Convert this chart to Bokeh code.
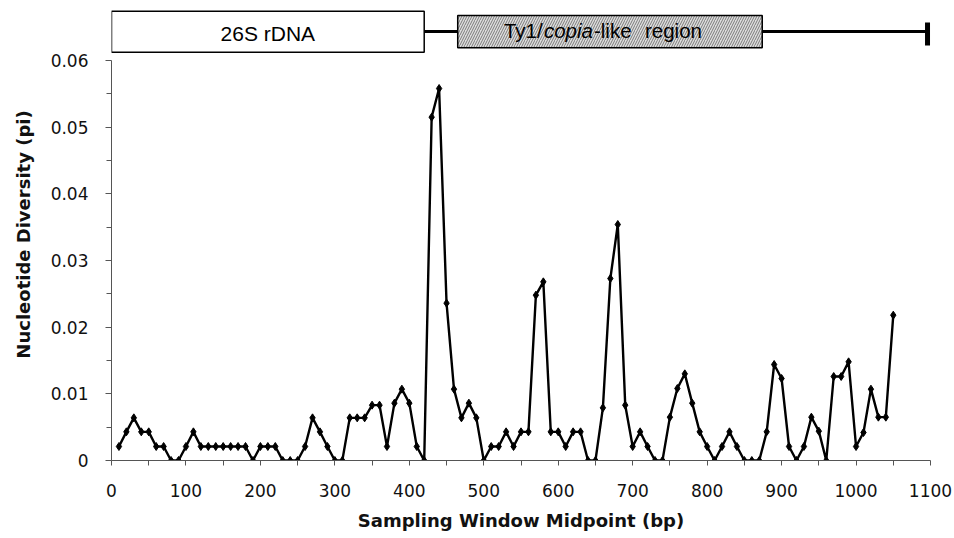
from bokeh.plotting import figure
from bokeh.models import Range1d, FixedTicker
from bokeh.core.properties import value
from bokeh.embed import file_html
from bokeh.resources import INLINE

# ---- data ----
window_mid = [10, 20, 30, 40, 50, 60, 70, 80, 90, 100,
              110, 120, 130, 140, 150, 160, 170, 180, 190, 200,
              210, 220, 230, 240, 250, 260, 270, 280, 290, 300,
              310, 320, 330, 340, 350, 360, 370, 380, 390, 400,
              410, 420, 430, 440, 450, 460, 470, 480, 490, 500,
              510, 520, 530, 540, 550, 560, 570, 580, 590, 600,
              610, 620, 630, 640, 650, 660, 670, 680, 690, 700,
              710, 720, 730, 740, 750, 760, 770, 780, 790, 800,
              810, 820, 830, 840, 850, 860, 870, 880, 890, 900,
              910, 920, 930, 940, 950, 960, 970, 980, 990, 1000,
              1010, 1020, 1030, 1040, 1050]
pi = [0.0021, 0.0043, 0.0064, 0.0043, 0.0043, 0.0021, 0.0021, 0.0, 0.0, 0.0021,
      0.0043, 0.0021, 0.0021, 0.0021, 0.0021, 0.0021, 0.0021, 0.0021, 0.0, 0.0021,
      0.0021, 0.0021, 0.0, 0.0, 0.0, 0.0021, 0.0064, 0.0043, 0.0021, 0.0,
      0.0, 0.0064, 0.0064, 0.0064, 0.0083, 0.0083, 0.0021, 0.0086, 0.0107, 0.0086,
      0.0021, 0.0, 0.0515, 0.0558, 0.0236, 0.0107, 0.0064, 0.0086, 0.0064, 0.0,
      0.0021, 0.0021, 0.0043, 0.0021, 0.0043, 0.0043, 0.0248, 0.0268, 0.0043, 0.0043,
      0.0021, 0.0043, 0.0043, 0.0, 0.0, 0.0079, 0.0273, 0.0354, 0.0083, 0.0021,
      0.0043, 0.0021, 0.0, 0.0, 0.0065, 0.0108, 0.0130, 0.0086, 0.0043, 0.0021,
      0.0, 0.0021, 0.0043, 0.0021, 0.0, 0.0, 0.0, 0.0043, 0.0144, 0.0123,
      0.0021, 0.0, 0.0021, 0.0065, 0.0044, 0.0, 0.0126, 0.0126, 0.0148, 0.0021,
      0.0042, 0.0107, 0.0065, 0.0065, 0.0218]

x_ticks = [0, 100, 200, 300, 400, 500, 600, 700, 800, 900, 1000, 1100]
x_minor = [50, 150, 250, 350, 450, 550, 650, 750, 850, 950, 1050]
y_ticks = [0, 0.01, 0.02, 0.03, 0.04, 0.05, 0.06]
y_labels = ["0", "0.01", "0.02", "0.03", "0.04", "0.05", "0.06"]
y_minor = [0.005, 0.015, 0.025, 0.035, 0.045, 0.055]

# construct diagram (bp)
rdna_label = "26S rDNA"
rdna_start, rdna_end = 0, 420
ty1_start, ty1_end = 465, 874
construct_end = 1096

# ---- figure ----
p = figure(width=954, height=538, output_backend="svg", toolbar_location=None,
           x_range=Range1d(0, 1100), y_range=Range1d(0, 0.0678),
           min_border_left=111, min_border_right=24, min_border_top=8,
           min_border_bottom=78)
p.outline_line_color = None
p.xgrid.grid_line_color = None
p.ygrid.grid_line_color = None
p.background_fill_color = "white"

# diagram: backbone line, boxes, end bar
p.segment(x0=[rdna_end], y0=[0.06435], x1=[construct_end], y1=[0.06435],
          line_color="black", line_width=3)
p.segment(x0=[construct_end], y0=[0.06225], x1=[construct_end], y1=[0.0657],
          line_color="black", line_width=5)
p.quad(left=[rdna_start], right=[rdna_end], bottom=[0.06125], top=[0.0674],
       fill_color="white", line_color="black", line_width=1.5)
p.quad(left=[ty1_start], right=[ty1_end], bottom=[0.0619], top=[0.06675],
       fill_color="#dedede", hatch_pattern="/", hatch_color="#7a7a7a",
       hatch_scale=5, hatch_weight=1.0, line_color="black", line_width=1.5)

p.text(x=[(rdna_start + rdna_end) / 2], y=[0.06275], text=[rdna_label],
       y_offset=-9,
       text_font=value("Liberation Sans"), text_font_size="21px",
       text_align="center", text_baseline="alphabetic", text_color="black")

ty1_mid = (ty1_start + ty1_end) / 2
parts = [("Ty1/", 0, "normal"), ("copia", 40, "italic"),
         ("-like", 90, "normal"), ("region", 141, "normal")]
for txt, off, style in parts:
    p.text(x=[ty1_mid], y=[0.06322], text=[txt], x_offset=-106 + off,
           y_offset=-9,
           text_font=value("Liberation Sans"), text_font_size="20.5px",
           text_font_style=style, text_align="left",
           text_baseline="alphabetic", text_color="black")

# data
p.line(window_mid, pi, line_color="black", line_width=2.4)
p.scatter(window_mid, pi, marker="diamond", size=8, color="black")

# axes
axis_color = "#555555"
xa = p.xaxis[0]
xa.ticker = FixedTicker(ticks=x_ticks, minor_ticks=x_minor)
xa.axis_line_color = axis_color
xa.major_tick_line_color = axis_color
xa.minor_tick_line_color = axis_color
xa.major_tick_in = 0
xa.major_tick_out = 5
xa.minor_tick_in = 0
xa.minor_tick_out = 5
xa.major_label_text_font = "DejaVu Sans"
xa.major_label_text_font_size = "17px"
xa.major_label_text_color = "#111111"
xa.major_label_standoff = 18
xa.axis_label = "Sampling Window Midpoint (bp)"
xa.axis_label_text_font = "DejaVu Sans"
xa.axis_label_text_font_style = "bold"
xa.axis_label_text_font_size = "18px"
xa.axis_label_text_color = "#111111"
xa.axis_label_standoff = 10

ya = p.yaxis[0]
ya.bounds = (0, 0.06)
ya.ticker = FixedTicker(ticks=y_ticks, minor_ticks=y_minor)
ya.major_label_overrides = {t: l for t, l in zip(y_ticks, y_labels)}
ya.axis_line_color = axis_color
ya.major_tick_line_color = axis_color
ya.minor_tick_line_color = axis_color
ya.major_tick_in = 0
ya.major_tick_out = 6
ya.minor_tick_in = 0
ya.minor_tick_out = 5
ya.major_label_text_font = "DejaVu Sans"
ya.major_label_text_font_size = "17px"
ya.major_label_text_color = "#111111"
ya.major_label_standoff = 17
ya.axis_label = "Nucleotide Diversity (pi)"
ya.axis_label_text_font = "DejaVu Sans"
ya.axis_label_text_font_style = "bold"
ya.axis_label_text_font_size = "18px"
ya.axis_label_text_color = "#111111"
ya.axis_label_standoff = 14

open("out.html", "w").write(file_html(p, INLINE))
